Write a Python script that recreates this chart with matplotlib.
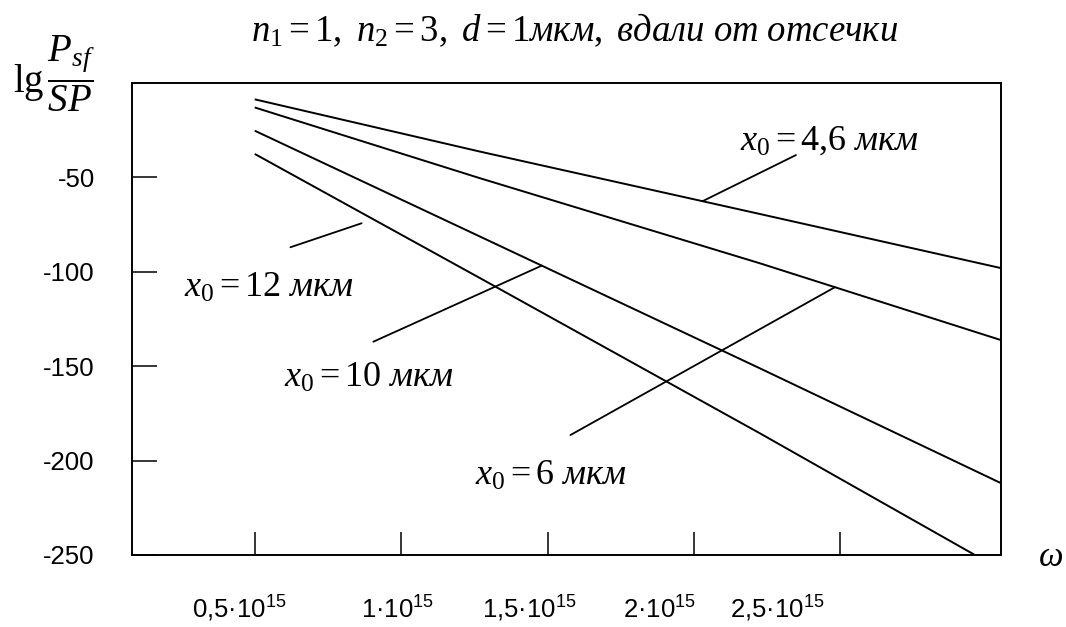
import numpy as np
import matplotlib
matplotlib.use("Agg")
import matplotlib.pyplot as plt
from matplotlib.transforms import ScaledTranslation

plt.rcParams['mathtext.fontset'] = 'custom'
plt.rcParams['mathtext.rm'] = 'Liberation Serif'
plt.rcParams['mathtext.it'] = 'Liberation Serif:italic'
plt.rcParams['mathtext.bf'] = 'Liberation Serif:bold'
plt.rcParams['mathtext.sf'] = 'Liberation Sans'
plt.rcParams['font.family'] = ['Liberation Sans', 'DejaVu Sans']
plt.rcParams['axes.unicode_minus'] = False

# ---------------- data (omega in units of 1e15) ----------------
omega = [0.50, 1.27, 2.225, 3.047]
omega_x12 = [0.50, 1.27, 2.225, 2.959]
lg_x46 = [-8.8, -36.5, -69.5, -98.1]
lg_x6 = [-13.1, -50.6, -95.6, -136.2]
lg_x10 = [-25.4, -81.5, -151.2, -211.9]
lg_x12 = [-37.7, -103.5, -185.6, -250.0]

xticks = [0.5, 1.0, 1.5, 2.0, 2.5]
xtick_labels = [r"$\mathsf{0{,}5·10^{15}}$", r"$\mathsf{1·10^{15}}$",
                r"$\mathsf{1{,}5·10^{15}}$", r"$\mathsf{2·10^{15}}$",
                r"$\mathsf{2{,}5·10^{15}}$"]
yticks = [-50, -100, -150, -200, -250]
ytick_labels = ["-50", "-100", "-150", "-200", "-250"]

title = r"$n_1 = 1,\ n_2 = 3,\ d = 1мкм,\ вдали\ от\ отсечки$"
labels = [r"$x_0 = 4{,}6\ мкм$", r"$x_0 = 6\ мкм$",
          r"$x_0 = 10\ мкм$", r"$x_0 = 12\ мкм$"]

# ---------------- figure ----------------
W, H = 1066, 627
fig = plt.figure(figsize=(W / 100, H / 100), dpi=100)
L, R, T, B = 132.3, 1000.7, 82.7, 555.0
ax = fig.add_axes([L / W, 1 - B / H, (R - L) / W, (B - T) / H])

for x, y in [(omega, lg_x46), (omega, lg_x6), (omega, lg_x10), (omega_x12, lg_x12)]:
    ax.plot(x, y, color='black', lw=1.4, solid_capstyle='butt')

ax.set_xlim(0.082, 3.047)
ax.set_ylim(-250, 0)

ax.set_xticks(xticks)
ax.set_xticklabels(xtick_labels, fontsize=18.5)
ax.set_yticks(yticks)
ax.set_yticklabels(ytick_labels, fontsize=18.5)
ax.tick_params(axis='x', direction='in', length=16.5, width=1.1, pad=45.5,
               top=False)
ax.tick_params(axis='y', direction='in', length=18, width=1.1, pad=27,
               right=False)
for sp in ax.spines.values():
    sp.set_linewidth(1.4)

# x tick labels in the original are set slightly left of their ticks
label_shift_px = [-15, -3.5, -18.5, -34.5, -63.5]
for lab, dx in zip(ax.get_xticklabels(), label_shift_px):
    lab.set_va('baseline')
    lab.set_transform(lab.get_transform() +
                      ScaledTranslation(dx / 100, 0, fig.dpi_scale_trans))

# leader lines for labels
lead_kw = dict(arrowprops=dict(arrowstyle='-', lw=1.3, color='black',
                               shrinkA=0, shrinkB=0))
ax.annotate('', xy=(2.029, np.interp(2.029, omega, lg_x46)), xytext=(2.348, -38.3), **lead_kw)
ax.annotate('', xy=(2.481, np.interp(2.481, omega, lg_x6)), xytext=(1.578, -186.5), **lead_kw)
ax.annotate('', xy=(1.480, np.interp(1.480, omega, lg_x10)), xytext=(0.905, -137.1), **lead_kw)
ax.annotate('', xy=(0.865, -74.4), xytext=(0.622, -87.1), **lead_kw)

lab_fs = 26
ax.text(2.158, -30.3, labels[0], fontsize=lab_fs, ha='left', va='center')
ax.text(1.253, -207.7, labels[1], fontsize=lab_fs, ha='left', va='center')
ax.text(0.600, -155.8, labels[2], fontsize=lab_fs, ha='left', va='center')
ax.text(0.260, -108.2, labels[3], fontsize=lab_fs, ha='left', va='center')

fig.text(574.5 / W, 1 - 30 / H, title, fontsize=26.5, ha='center', va='center')
fig.text(13 / W, 1 - 74 / H, r"$\mathrm{lg}\,\dfrac{P_{sf}}{SP}$",
         fontsize=28, ha='left', va='center')
fig.text(1051 / W, 1 - 557 / H, r"$\omega$", fontsize=25, ha='center', va='center')

fig.savefig('out.png', dpi=100)
